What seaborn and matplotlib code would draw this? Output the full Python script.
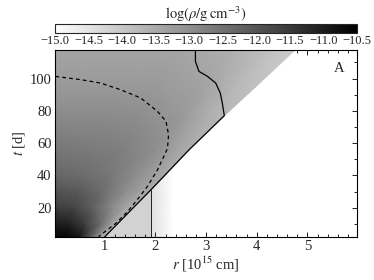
import numpy as np
import matplotlib
matplotlib.use("Agg")
import matplotlib.pyplot as plt
import seaborn as sns

# ---------- data ----------
# ejecta density: one row per time, each row with its own radii (last radius = shock)
t_rows = [1.9, 10, 20, 31, 40, 55.7, 77, 95, 117.6]
r_rows = [
    [0, 0.25, 0.50, 0.75, 0.90, 1.00],
    [0, 0.31, 0.62, 0.94, 1.12, 1.25],
    [0, 0.39, 0.78, 1.17, 1.40, 1.56],
    [0, 0.48, 0.96, 1.43, 1.72, 1.91],
    [0, 0.55, 1.10, 1.64, 1.97, 2.19],
    [0, 0.67, 1.33, 2.00, 2.39, 2.66],
    [0, 0.84, 1.68, 2.52, 3.02, 3.36],
    [0, 1.00, 1.99, 2.99, 3.58, 3.98],
    [0, 1.19, 2.38, 3.56, 4.28, 4.75],
]
logrho_rows = [
    [-10.6, -10.6, -10.9, -12.2, -13.2, -13.75],
    [-11.0, -11.1, -11.6, -12.5, -13.2, -13.65],
    [-11.6, -11.7, -12.2, -13.0, -13.4, -13.6],
    [-12.0, -12.1, -12.45, -13.0, -13.3, -13.55],
    [-12.3, -12.4, -12.6, -13.0, -13.3, -13.5],
    [-12.6, -12.65, -12.75, -13.0, -13.35, -13.55],
    [-12.95, -12.95, -13.0, -13.2, -13.55, -13.75],
    [-13.2, -13.2, -13.2, -13.4, -13.75, -13.9],
    [-13.4, -13.4, -13.4, -13.6, -13.9, -14.1],
]

# unshocked surroundings (function of radius only)
r_csm = [0.0, 1.91, 1.93, 2.35, 6.0]
logrho_csm = [-14.2, -14.2, -14.45, -15.0, -15.0]
t_csm = [1.9, 117.6]

# contour lines
shock_r = [1.0, 1.91, 2.66, 3.36, 3.32, 3.28, 3.19, 3.03, 2.86, 2.79, 2.79]
shock_t = [1.9, 31, 55.7, 77, 84.8, 91, 97.2, 101.3, 104.4, 110.6, 117.6]
vert_r = [1.91, 1.91]
vert_t = [1.9, 31]
dash_r = [0.03, 0.53, 0.92, 1.32, 1.71, 2.04, 2.21, 2.26, 2.24, 2.21,
          2.04, 1.84, 1.64, 1.45, 1.22, 0.92, 0.88]
dash_t = [101.3, 99.3, 97.2, 93, 88, 79.7, 73.5, 65.2, 57, 54.7,
          43.3, 33, 24.8, 17.5, 10.3, 3.1, 1.9]

cbar_ticks = [-15.0, -14.5, -14.0, -13.5, -13.0, -12.5, -12.0, -11.5, -11.0, -10.5]

# ---------- plot ----------
sns.set_style("ticks")
plt.rcParams["font.family"] = ["Liberation Serif", "DejaVu Serif"]
plt.rcParams["mathtext.fontset"] = "stix"

fig = plt.figure(figsize=(3.74, 2.8), dpi=100)
ax = fig.add_axes([0.147, 0.154, 0.808, 0.667])
cax = fig.add_axes([0.147, 0.882, 0.808, 0.032])

norm = plt.Normalize(-15.0, -10.5)
cmap = "gray_r"

R_csm, T_csm = np.meshgrid(r_csm, t_csm)
C_csm = np.tile(logrho_csm, (len(t_csm), 1))
ax.pcolormesh(R_csm, T_csm, C_csm, shading="gouraud", cmap=cmap, norm=norm, zorder=0)

R = np.array(r_rows)
T = np.repeat(np.array(t_rows)[:, None], R.shape[1], axis=1)
mesh = ax.pcolormesh(R, T, np.array(logrho_rows), shading="gouraud",
                     cmap=cmap, norm=norm, zorder=1)

sns.lineplot(x=shock_r, y=shock_t, sort=False, estimator=None, color="k",
             lw=0.9, ax=ax, zorder=3)
sns.lineplot(x=vert_r, y=vert_t, sort=False, estimator=None, color="k",
             lw=0.6, ax=ax, zorder=3)
sns.lineplot(x=dash_r, y=dash_t, sort=False, estimator=None, color="k",
             lw=0.9, ax=ax, zorder=3, linestyle=(0, (3, 2.5)))

ax.set_xlim(0.02, 5.98)
ax.set_ylim(1.9, 117.6)
ax.set_xticks([1, 2, 3, 4, 5])
ax.set_yticks([20, 40, 60, 80, 100])
ax.set_xticks(np.arange(0.2, 6.0, 0.2), minor=True)
ax.set_yticks(np.arange(10, 117, 10), minor=True)
ax.tick_params(which="both", direction="in", top=True, right=True, labelsize=10.5,
               color="k", width=0.6, pad=2.5)
ax.tick_params(which="major", length=3.5)
ax.tick_params(which="minor", length=2)
ax.set_xlabel(r"$r$ [10$^{15}$ cm]", fontsize=10.5, labelpad=1)
ax.set_ylabel(r"$t$ [d]", fontsize=10.5, labelpad=2)
ax.text(0.94, 0.9, "A", transform=ax.transAxes, fontsize=10.5, ha="center", va="center")
for s in ax.spines.values():
    s.set_linewidth(0.8)
    s.set_color("k")

cb = fig.colorbar(mesh, cax=cax, orientation="horizontal")
cb.set_ticks(cbar_ticks)
cax.set_xticks(np.arange(-15.0, -10.45, 0.1), minor=True)
cax.tick_params(which="both", direction="in", bottom=True, top=False, labelsize=9,
                width=0.6, pad=1.5)
cax.tick_params(which="major", length=3)
cax.tick_params(which="minor", length=1.5)
cb.outline.set_linewidth(0.8)
cax.set_title(r"$\log(\rho/\mathrm{g\,cm}^{-3})$", fontsize=10.5, pad=2)

fig.savefig("out.png", dpi=100)
